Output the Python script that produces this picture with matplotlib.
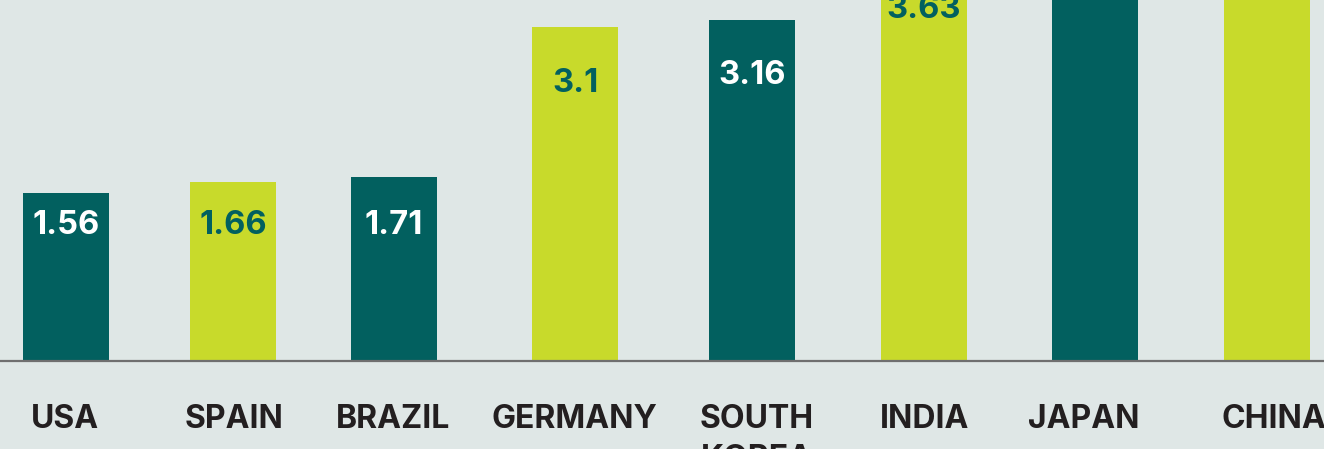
import matplotlib
matplotlib.use("Agg")
import matplotlib.pyplot as plt

# ---- data ----
countries = ["USA", "SPAIN", "BRAZIL", "GERMANY", "SOUTH\nKOREA", "INDIA", "JAPAN", "CHINA"]
values = [1.56, 1.66, 1.71, 3.1, 3.16, 3.63, 4.6, 5.4]
value_labels = ["1.56", "1.66", "1.71", "3.1", "3.16", "3.63", "4.6", "5.4"]

# ---- layout / style ----
bar_centers = [66, 233, 394, 575, 752, 924, 1095, 1267]
label_centers = [64.5, 234.5, 393, 574, 757, 925, 1084, 1274]
label_offsets = [0.38, 0.48, 0.53, 0.605, 0.59, 0.45, 0.5, 0.5]
bar_width = 86
TEAL = "#02605f"
LIME = "#c8da2b"
BG = "#dfe7e6"
colors = [TEAL, LIME, TEAL, LIME, TEAL, LIME, TEAL, LIME]
text_colors = ["white" if c == TEAL else TEAL for c in colors]

plt.rcParams['font.family'] = ['Inter', 'Liberation Sans', 'DejaVu Sans']

fig = plt.figure(figsize=(13.24, 4.49), dpi=100)
fig.patch.set_facecolor(BG)
ax = fig.add_axes([0, 0, 1, 1])
ax.set_facecolor(BG)

px_per_unit = 107.6
ax.set_xlim(0, 1324)
ax.set_ylim(-88.5 / px_per_unit, 360.5 / px_per_unit)

ax.bar(bar_centers, values, width=bar_width, color=colors, zorder=2)
ax.axhline(0, xmin=1 / 1324, xmax=1, color="#6f6f6f", linewidth=1.6, zorder=3)

for xc, v, lab, off, tc in zip(bar_centers, values, value_labels, label_offsets, text_colors):
    ax.text(xc, v - off, lab, ha="center", va="baseline", fontsize=23.5,
            fontweight="bold", color=tc, zorder=4)

label_base = -(428 - 360.5) / px_per_unit
for xc, name in zip(label_centers, countries):
    lines = name.split("\n")
    for i, line in enumerate(lines):
        ax.text(xc, label_base - i * 40 / px_per_unit, line, ha="center", va="baseline",
                fontsize=23, fontweight="bold", color="#231f20", zorder=4)

ax.axis("off")
fig.savefig("out.png", dpi=100, facecolor=BG)
